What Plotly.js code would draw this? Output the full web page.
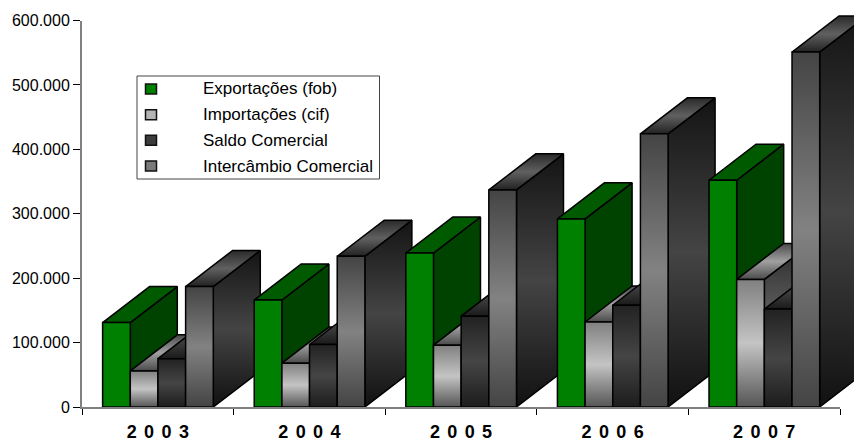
<!DOCTYPE html>
<html><head><meta charset="utf-8">
<script src="https://cdn.plot.ly/plotly-3.0.1.min.js"></script>
<style>html,body{margin:0;padding:0;background:#fff;overflow:hidden}
#c{width:854px;height:441px}
.xtick text{word-spacing:2.4px}</style></head>
<body><div id="c"></div>
<script>
var years = ['2 0 0 3','2 0 0 4','2 0 0 5','2 0 0 6','2 0 0 7'];
var exportacoes = [131000,166000,239000,292000,352000];
var importacoes = [56000,68000,96000,132000,198000];
var saldo = [75000,97000,141000,158000,152000];
var intercambio = [187000,234000,337000,424000,551000];
var seriesNames = ['Exportações (fob)','Importações (cif)','Saldo Comercial','Intercâmbio Comercial'];
var yTicks = [0,100000,200000,300000,400000,500000,600000];
var yTickText = ['0','100.000','200.000','300.000','400.000','500.000','600.000'];

var W=854,H=441,L=82,R=840,T=20.5,B=407;
var barOffset=0.136, barW=0.1825, depthX=0.31, depthY=56000;
function cs(a,b,c){return [[0,a],[0.5,b],[1,c]];}
var styles=[
 {front:'#008000',top:'#005a00',side:'#004200'},
 {front:cs('#555555','#c4c4c4','#808080'),top:cs('#4a4a4a','#a0a0a0','#4a4a4a'),side:cs('#2a2a2a','#666666','#2a2a2a')},
 {front:cs('#1c1c1c','#454545','#222222'),top:cs('#1a1a1a','#404040','#1a1a1a'),side:cs('#181818','#484848','#181818')},
 {front:cs('#444444','#828282','#444444'),top:cs('#222222','#606060','#2a2a2a'),side:cs('#111111','#444444','#141414')}
];
var allSeries=[exportacoes,importacoes,saldo,intercambio];
var traces=[{type:'scatter',mode:'lines',x:[],y:[],xaxis:'x',yaxis:'y',showlegend:false,hoverinfo:'skip'}];
function face(xs,ys,paint){
  var t={type:'scatter',mode:'lines',xaxis:'x2',yaxis:'y2',x:xs.concat(xs[0]),y:ys.concat(ys[0]),fill:'toself',
    line:{color:'#000',width:1.5},hoverinfo:'skip',showlegend:false};
  if(typeof paint==='string'){t.fillcolor=paint;}
  else{t.fillgradient={type:'vertical',colorscale:paint,start:Math.min.apply(null,ys),stop:Math.max.apply(null,ys)};}
  traces.push(t);
}
years.forEach(function(_,c){
  allSeries.forEach(function(vals,s){
    var x0=c+barOffset+s*barW,x1=x0+barW,v=vals[c],st=styles[s];
    face([x1,x1+depthX,x1+depthX,x1],[0,depthY,v+depthY,v],st.side);
    face([x0,x1,x1+depthX,x0+depthX],[v,v,v+depthY,v+depthY],st.top);
    face([x0,x1,x1,x0],[0,0,v,v],st.front);
  });
});

var plotW=W-L, plotH=B;
function px(x){return (x-L)/plotW;}
function py(y){return (B-y)/plotH;}
var shapes=[{type:'rect',xref:'paper',yref:'paper',x0:px(137),x1:px(379.5),y0:py(179),y1:py(76),
  line:{color:'#444',width:1},fillcolor:'#fff',layer:'above'}];
var annotations=[];
var rowY=[89,114.7,140.3,166];
var keyFill=['#008000','#b4b4b4','#3c3c3c','#7a7a7a'];
seriesNames.forEach(function(n,i){
  shapes.push({type:'rect',xref:'paper',yref:'paper',x0:px(145.5),x1:px(156.5),y0:py(rowY[i]+5),y1:py(rowY[i]-5),
    line:{color:'#111',width:1.5},fillcolor:keyFill[i],layer:'above'});
  annotations.push({xref:'paper',yref:'paper',x:px(203),y:py(rowY[i]),text:n,showarrow:false,xanchor:'left',yanchor:'middle',
    xshift:-1,font:{family:'Liberation Sans',size:17,color:'#000'},align:'left',borderpad:0});
});

Plotly.newPlot('c',traces,{
  width:W,height:H,margin:{l:L,r:0,t:0,b:H-B,pad:0},autosize:false,
  paper_bgcolor:'#fff',plot_bgcolor:'rgba(0,0,0,0)',showlegend:false,
  font:{family:'Liberation Sans',color:'#000'},
  xaxis:{type:'linear',domain:[0,px(R)],range:[0,5],tickmode:'array',tickvals:[0.5,1.5,2.5,3.5,4.5],ticktext:years,ticks:'',
    tickfont:{family:'Liberation Sans',size:18,color:'#000',weight:'bold'},showgrid:false,zeroline:false,
    showline:true,linecolor:'#808080',linewidth:1.5,fixedrange:true,ticklabelstandoff:8,
    minor:{tickmode:'array',tickvals:[0,1,2,3,4,5],ticks:'outside',ticklen:6,tickwidth:1,tickcolor:'#000',showgrid:false}},
  yaxis:{type:'linear',domain:[0,py(T)],range:[0,600000],tickmode:'array',tickvals:yTicks,ticktext:yTickText,ticks:'outside',ticklen:7,tickwidth:1,
    tickcolor:'#000',tickfont:{family:'Liberation Sans',size:16,color:'#000'},showgrid:false,zeroline:false,
    showline:true,linecolor:'#808080',linewidth:2,fixedrange:true},
  xaxis2:{type:'linear',domain:[0,1],range:[0,5/px(R)],visible:false,anchor:'y2',fixedrange:true},
  yaxis2:{type:'linear',domain:[0,1],range:[0,600000/py(T)],visible:false,anchor:'x2',fixedrange:true},
  shapes:shapes,annotations:annotations
},{displayModeBar:false});
</script></body></html>
